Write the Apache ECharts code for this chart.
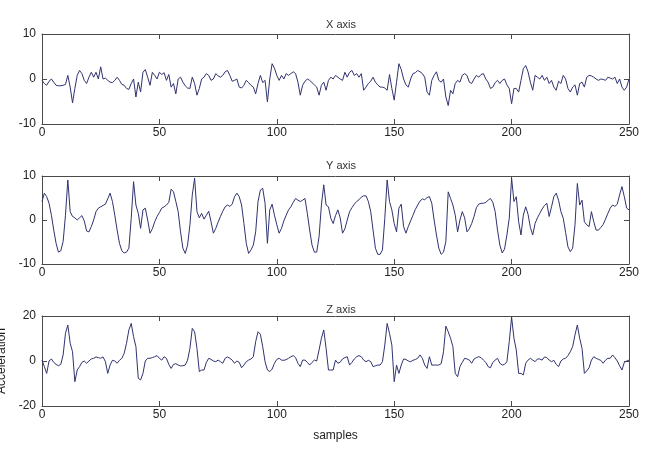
<!DOCTYPE html>
<html>
<head>
<meta charset="utf-8">
<title>Acceleration samples</title>
<script src="https://cdn.jsdelivr.net/npm/echarts@6/dist/echarts.min.js"></script>
<style>
  html, body { margin: 0; padding: 0; background: #fff; }
  #chart { width: 647px; height: 453px; }
</style>
</head>
<body>
<div id="chart"></div>
<script>
// samples 0..250, values
const accX = [
  -0.3,-1,-1.4,-0.5,0,-0.7,-1.4,-1.5,-1.5,-1.4,
  -1.2,0.8,-1.8,-5.3,-2.1,0.8,1.9,1.2,-0.3,-1,
  0.4,1.5,0.4,1.5,0,2.7,0,0.2,-0.3,-0.7,
  -0.8,-0.3,0.4,-0.3,-1.2,-1.4,-2.1,-2.3,-1,0,
  -4,-0.7,-2.9,1.5,2.1,0.4,-1.4,1.5,0.8,0,
  1.5,1,1.4,-0.3,1,-1.8,-1,-3.3,0,0.4,
  -0.7,-1.5,-2,-2.1,
  0.4,-1,-3.6,-2.1,0,0.4,1.2,0.8,-0.3,0,
  1.2,0.7,0.4,0.8,1.6,1.9,0.8,-0.5,-0.3,0,
  -1.8,-2,-1.4,-0.3,-0.8,-1.4,-1.8,-3.3,-1,0.8,
  -0.8,-0.3,-5.1,0,3.4,2.4,0.8,-0.3,0.8,0,
  1.2,0.8,1.2,1.6,1.2,-0.7,-3.6,-1.4,-0.5,0,
  -0.3,-0.8,-1.3,-1.8,-3.6,-1.4,-0.7,-2.5,-0.3,0.4,
  0,0.8,0.4,0,
  -0.3,1.5,0.4,1.5,1.9,0.8,1.2,0.4,1.2,-2.5,
  -1.8,-1,-0.5,0.4,-0.7,-1.3,-1.8,-1.8,-2,-2.5,
  1,-2.1,-4.7,-0.7,3.4,2.1,0,-1.3,-1.8,0,
  1.2,1.4,1.9,1.6,1.2,0.4,-2.9,-3.6,-0.3,0.8,
  1.6,-0.3,-0.7,0,-4,-5.9,-2.5,-3.3,-1,-0.3,
  -0.7,0.8,1.2,0.8,-0.7,-1,0,0.8,0.4,1,
  1.2,0,-0.7,
  -2.1,-1.8,-0.8,-0.3,-1,-0.3,0,-1.3,-2.1,-5.5,
  -2.1,-2.1,-2.9,-0.3,2.3,3,1.6,-0.7,-2.5,0.8,
  0.4,0,0.8,-0.3,0.4,-1,-0.3,-1.8,-2.5,-0.5,
  -1,0.8,0,-2.1,-2.9,-1.8,-1.3,-3.6,-1,-0.7,
  -1.8,0.4,0.8,0.7,0.4,0,-0.3,0,-0.1,-0.3,
  0.4,0.2,0,0.4,-1,0,-1.8,-2.5,-1.8,0
];

const accY = [
  4.2,6.1,5.3,3.8,1.1,-2.3,-5.3,-7.3,-7,-4.9,
  1.1,9.1,1.9,0.8,0.5,0,0.5,1,-0.2,-2.5,
  -2.7,-1.5,0,1.9,2.7,3,3.3,3.6,4.8,6.1,
  4.2,1.1,-2.3,-5.3,-7,-7.5,-7.3,-6.4,0.4,8.7,
  3.4,1.5,-1.9,2.3,2.7,0,-3,-2,-0.4,0.8,
  1.7,2.7,3,3.4,4,7,6.4,4.2,1.9,-2.7,
  -6.4,-7.6,-5.7,-1.1,
  5.7,9.5,1.9,0.5,1.5,0.2,1.1,2,-0.4,-3,
  -1.9,-0.5,0.8,2,3,3.4,3.1,3.6,5.3,6.1,
  5.3,3.4,-0.8,-5.3,-7.6,-6.8,-5.7,-2.7,4.2,6.8,
  7.2,3.8,-5.3,2.3,3.6,1.1,-1.1,-3,-1.9,-0.2,
  1.1,2.3,3,4,4.9,4.5,4.2,4.5,4.9,1.5,
  -2.3,-5.7,-7.3,-7.3,-3.8,3.4,8,3.4,3,0.4,
  -0.8,1,2.3,0.5,
  -3,-2,0,1.9,2.8,3.6,4.2,4.6,5.2,5.5,
  5.5,4.2,1.9,-2.3,-6.4,-7.8,-7.8,-6.8,0.4,9.1,
  4.2,2.3,-0.8,-2.7,2.7,3.6,-1.5,-3,-1.5,-0.2,
  1.1,2.4,3.4,4.3,4.8,4.6,5.1,5.3,3.8,0,
  -3.4,-6.4,-7.8,-7.3,-4.9,6.4,4.9,3.4,1.1,-2.7,
  0,1.9,0.5,-2.7,-2,-0.8,0.8,2.8,3.6,3.8,
  3.8,4,4.5,
  4.9,4,1.9,-2.3,-5.7,-7.5,-6.6,-3.4,0.4,9.5,
  4.2,5.3,-0.4,-3.4,1.1,3,1.3,-1.7,-3.4,-0.8,
  0.5,1.5,2.5,3.3,3.8,0.8,3,5.3,6.1,4.5,
  1.9,0.4,-2.8,-6.1,-7.2,-6.4,-1.1,8.3,3.4,4.5,
  -0.4,-1.1,-1.5,1.9,-0.4,-2.3,-2.3,-1.7,-1,0.2,
  1.5,2.7,3.4,3.1,3.6,5.7,7.6,5.3,2.7,2.3
];

const accZ = [
  0.4,-2.5,-5.5,0,0.9,-0.6,-1.5,-2.1,-1.5,2.7,
  12.3,16,7.9,4.1,-9.2,-4,-2.5,-0.6,0,-1,
  0,0.9,1.2,1.8,1.5,1.2,1.8,-0.3,-5.5,-1.8,
  0.3,0,-1,0.3,1.2,3.4,7.9,13.8,16.7,10.8,
  6.4,-7.7,-8.4,-5.5,0,1.2,1.2,1.5,1.9,2.4,
  1.2,0.4,1.9,1.2,-1.5,-3.3,-1.5,-1.2,-1.8,-2.2,
  -2.1,-1.8,0.4,
  5.6,14.5,13,5.6,-4.7,-4,-4,-0.6,1.2,0.7,
  0,-0.3,0.4,-0.3,-1,1.2,1.8,1.2,0.4,-1,
  0,-0.6,-3,-1.8,-0.3,0.4,0.9,1.9,8.6,13,
  11.9,6.4,-0.3,-4,-4.7,-3.6,-1,0.7,1.2,0.4,
  0.3,0.6,1.2,1.9,2.4,1.5,-1,-2.5,0.4,0.4,
  -0.6,-1.8,-0.6,0.4,0,4.9,10.1,13.8,5.6,-4,
  -4,-4,0.4,-1,-0.5,
  0.9,1.5,1.9,-1.8,-0.6,0.9,1.9,2.4,1.9,0.4,
  -0.3,0.3,-0.3,-2.5,-2.1,-1.8,-1.8,-0.3,7.1,16.7,
  12.3,7.1,-9.2,-1.8,-5.5,-1.8,0.9,0.7,0,-0.3,
  0.3,0.7,1.2,2.7,1.2,-1.8,-3.3,1.9,-1.8,-1.8,
  -1.8,-1.8,-1.2,4.1,15.5,13,10.1,6.4,-5.5,-7,
  -2.5,-0.6,1.2,0.9,0.4,-1,0.9,1.5,1.9,1.5,
  0.4,-0.6,-2.5,
  -3,-0.6,0.4,1.2,-1,-1.8,-1.5,-0.3,8.6,19.5,
  10.1,4.9,-5.5,-5.5,-6.2,-1,0.4,1.2,0.4,-0.3,
  0.9,0.9,0.4,1.8,1.5,0.4,-0.3,0.3,-1.5,-2.5,
  0,0.9,1.2,2.4,4.1,6.4,11.6,16,10.1,5.6,
  -5.5,-4.4,-3,0.4,1.9,1.2,0.7,0.3,-1,0.4,
  1.2,1.2,2.7,1.5,0,-2.1,-4,-0.6,0,0.4
];

const xTicks = [0, 50, 100, 150, 200, 250];
const yTicksXY = [-10, 0, 10];
const yTicksZ = [-20, 0, 20];
const titles = ['X axis', 'Y axis', 'Z axis'];

const panels = [
  { data: accX, ticks: yTicksXY, top: 34, height: 90, titleTop: 14 },
  { data: accY, ticks: yTicksXY, top: 176, height: 88, titleTop: 155 },
  { data: accZ, ticks: yTicksZ, top: 316, height: 90, titleTop: 299 }
];

const font = 'Liberation Sans, Arial, sans-serif';
const boxColor = '#4a4a4a';
const lineColor = '#30336f';

const chart = echarts.init(document.getElementById('chart'), null, { renderer: 'canvas' });

const option = {
  backgroundColor: '#fff',
  animation: false,
  title: [],
  grid: [],
  xAxis: [],
  yAxis: [],
  series: []
};

panels.forEach((p, i) => {
  const step = p.ticks[1] - p.ticks[0];
  option.title.push({
    text: titles[i],
    left: 336,
    top: p.titleTop,
    textAlign: 'center',
    textStyle: { fontSize: 11, fontWeight: 'normal', color: '#333', fontFamily: font }
  });
  // keep the plot box fixed, do not let names push it around
  option.grid.push({
    left: 42, right: 18, top: p.top, height: p.height,
    show: false, containLabel: false, outerBoundsMode: 'none'
  });

  const xBase = {
    type: 'value', gridIndex: i,
    min: xTicks[0], max: xTicks[xTicks.length - 1], interval: xTicks[1] - xTicks[0],
    splitLine: { show: false },
    axisLine: { show: true, onZero: false, lineStyle: { color: boxColor, width: 1 } },
    axisTick: { show: true, inside: true, length: 5, lineStyle: { color: boxColor } }
  };
  // bottom axis with labels
  option.xAxis.push(Object.assign({}, xBase, {
    position: 'bottom',
    axisLabel: { show: true, margin: 3, fontSize: 12, color: '#222', fontFamily: font },
    name: i === 2 ? 'samples' : '',
    nameLocation: 'middle',
    nameGap: 24,
    nameTextStyle: { fontSize: 12, color: '#222', fontFamily: font }
  }));
  // top edge of the box
  option.xAxis.push(Object.assign({}, xBase, {
    position: 'top',
    axisLabel: { show: false }
  }));

  const yBase = {
    type: 'value', gridIndex: i,
    min: p.ticks[0], max: p.ticks[p.ticks.length - 1], interval: step,
    splitLine: { show: false },
    axisLine: { show: true, onZero: false, lineStyle: { color: boxColor, width: 1 } },
    axisTick: { show: true, inside: true, length: 5, lineStyle: { color: boxColor } }
  };
  option.yAxis.push(Object.assign({}, yBase, {
    position: 'left',
    axisLabel: { show: true, margin: 6, fontSize: 12, color: '#222', fontFamily: font },
    name: i === 2 ? 'Acceleration' : '',
    nameLocation: 'middle',
    nameGap: 34,
    nameTextStyle: { fontSize: 12, color: '#222', fontFamily: font }
  }));
  option.yAxis.push(Object.assign({}, yBase, {
    position: 'right',
    axisLabel: { show: false }
  }));

  option.series.push({
    type: 'line',
    xAxisIndex: i * 2,
    yAxisIndex: i * 2,
    data: p.data.map((v, k) => [k, v]),
    showSymbol: false,
    symbol: 'none',
    lineStyle: { color: lineColor, width: 1 },
    itemStyle: { color: lineColor }
  });
});

chart.setOption(option);
</script>
</body>
</html>
